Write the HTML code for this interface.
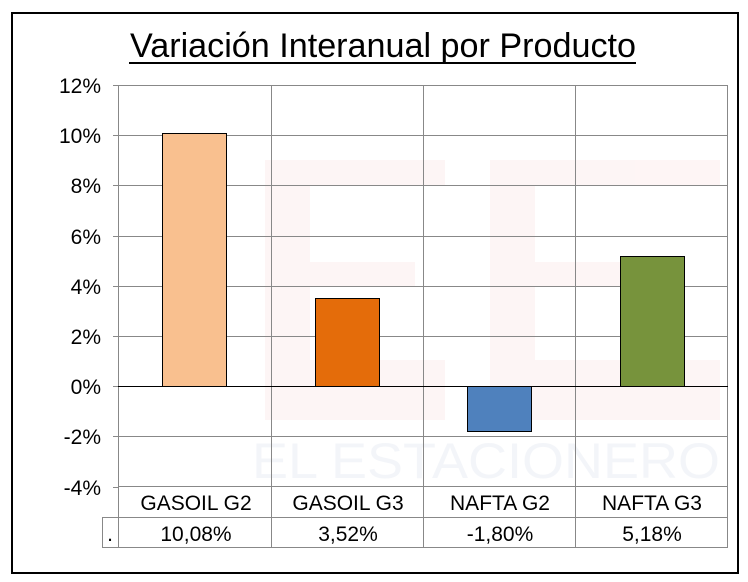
<!DOCTYPE html>
<html><head><meta charset="utf-8"><style>
html,body{margin:0;padding:0;background:#fff;}
svg{display:block;font-family:"Liberation Sans",Arial,sans-serif;}
</style></head><body>
<svg width="748" height="582" viewBox="0 0 748 582" xmlns="http://www.w3.org/2000/svg">
<rect x="0" y="0" width="748" height="582" fill="#fff"/>
<g opacity="0.35">
<rect x="265" y="160" width="180" height="25" fill="#fbe3e3"/>
<rect x="265" y="160" width="45" height="225" fill="#fbe3e3"/>
<rect x="265" y="262" width="150" height="25" fill="#fbe3e3"/>
<rect x="265" y="360" width="180" height="60" fill="#fbe3e3"/>
<rect x="490" y="160" width="230" height="25" fill="#fbe3e3"/>
<rect x="490" y="160" width="45" height="225" fill="#fbe3e3"/>
<rect x="490" y="262" width="180" height="25" fill="#fbe3e3"/>
<rect x="490" y="360" width="230" height="60" fill="#fbe3e3"/>
<text x="252" y="478" font-size="50" fill="#dfe5ee" textLength="468" lengthAdjust="spacingAndGlyphs">EL ESTACIONERO</text>
</g>
<rect x="118.5" y="85.5" width="609" height="401" fill="none" stroke="#888" stroke-width="1"/>
<g stroke="#888" stroke-width="1">
<line x1="118" y1="135.5" x2="728" y2="135.5"/>
<line x1="118" y1="185.5" x2="728" y2="185.5"/>
<line x1="118" y1="236.5" x2="728" y2="236.5"/>
<line x1="118" y1="286.5" x2="728" y2="286.5"/>
<line x1="118" y1="336.5" x2="728" y2="336.5"/>
<line x1="118" y1="436.5" x2="728" y2="436.5"/>
<line x1="113" y1="85.5" x2="118" y2="85.5"/>
<line x1="113" y1="135.5" x2="118" y2="135.5"/>
<line x1="113" y1="185.5" x2="118" y2="185.5"/>
<line x1="113" y1="236.5" x2="118" y2="236.5"/>
<line x1="113" y1="286.5" x2="118" y2="286.5"/>
<line x1="113" y1="336.5" x2="118" y2="336.5"/>
<line x1="113" y1="386.5" x2="118" y2="386.5"/>
<line x1="113" y1="436.5" x2="118" y2="436.5"/>
<line x1="113" y1="487.5" x2="118" y2="487.5"/>
<line x1="271.5" y1="85" x2="271.5" y2="547"/>
<line x1="423.5" y1="85" x2="423.5" y2="547"/>
<line x1="575.5" y1="85" x2="575.5" y2="547"/>
<line x1="118.5" y1="487" x2="118.5" y2="547"/>
<line x1="727.5" y1="487" x2="727.5" y2="547"/>
<line x1="102.5" y1="517.5" x2="728" y2="517.5"/>
<line x1="102.5" y1="547.5" x2="728" y2="547.5"/>
<line x1="102.5" y1="517" x2="102.5" y2="548"/>
</g>
<rect x="162.5" y="133.5" width="64" height="253" fill="#f9c08f" stroke="#000" stroke-width="1"/>
<rect x="315.5" y="298.5" width="64" height="88" fill="#e46c0a" stroke="#000" stroke-width="1"/>
<rect x="467.5" y="386.5" width="64" height="45" fill="#4f81bd" stroke="#000" stroke-width="1"/>
<rect x="620.5" y="256.5" width="64" height="130" fill="#77933c" stroke="#000" stroke-width="1"/>
<line x1="118" y1="386.5" x2="728" y2="386.5" stroke="#000" stroke-width="1"/>
<g font-size="21" text-anchor="end" fill="#000">
<text x="101" y="93">12%</text>
<text x="101" y="143">10%</text>
<text x="101" y="193">8%</text>
<text x="101" y="244">6%</text>
<text x="101" y="294">4%</text>
<text x="101" y="344">2%</text>
<text x="101" y="394">0%</text>
<text x="101" y="444">-2%</text>
<text x="101" y="495">-4%</text>
</g>
<g font-size="21" text-anchor="middle" fill="#000">
<text x="196" y="510">GASOIL G2</text>
<text x="348" y="510">GASOIL G3</text>
<text x="500" y="510">NAFTA G2</text>
<text x="652" y="510">NAFTA G3</text>
<text x="196" y="541">10,08%</text>
<text x="348" y="541">3,52%</text>
<text x="500" y="541">-1,80%</text>
<text x="652" y="541">5,18%</text>
<text x="110" y="541">.</text>
</g>
<text x="130" y="57" font-size="34" fill="#000" textLength="506" lengthAdjust="spacingAndGlyphs">Variación Interanual por Producto</text>
<line x1="129" y1="63" x2="636" y2="63" stroke="#000" stroke-width="2"/>
<rect x="12" y="13" width="726" height="560" fill="none" stroke="#000" stroke-width="2"/>
</svg>
</body></html>
